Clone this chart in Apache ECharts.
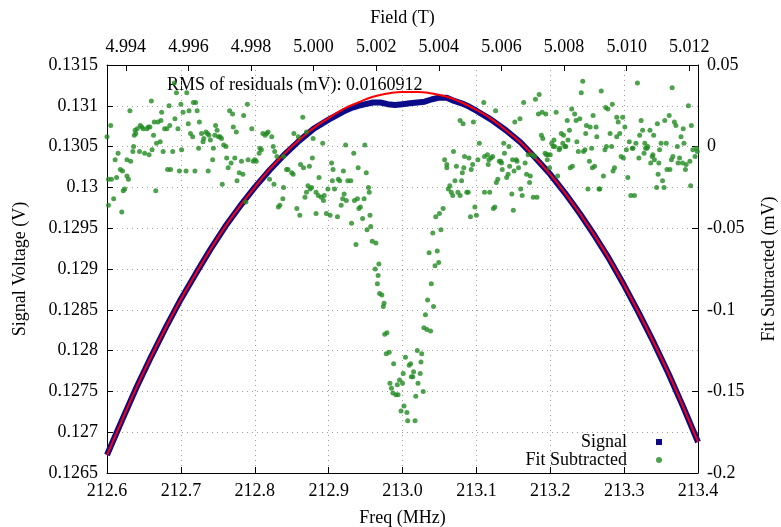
<!DOCTYPE html>
<html>
<head>
<meta charset="utf-8">
<script src="https://cdn.jsdelivr.net/npm/echarts@6/dist/echarts.min.js"></script>
<style>
  html, body { margin: 0; padding: 0; background: #fff; }
  #chart { width: 781px; height: 527px; }
</style>
</head>
<body>
<div id="chart"></div>
<script>
// measured signal (V) vs frequency (MHz)
const signalFreq = [212.60, 212.62, 212.64, 212.66, 212.68, 212.70, 212.72, 212.74, 212.76, 212.78,
  212.80, 212.82, 212.84, 212.86, 212.88, 212.90, 212.91, 212.92, 212.93, 212.94, 212.95, 212.96,
  212.97, 212.98, 212.99, 213.00, 213.01, 213.02, 213.03, 213.04, 213.05, 213.06, 213.07, 213.08,
  213.09, 213.10, 213.12, 213.14, 213.16, 213.18, 213.20, 213.22, 213.24, 213.26, 213.28, 213.30,
  213.32, 213.34, 213.36, 213.38, 213.40]
const signalVolt = [0.12672, 0.12714, 0.12755, 0.12793, 0.12829, 0.12863, 0.12894, 0.12924, 0.12952, 0.12977,
  0.13000, 0.13021, 0.13040, 0.13057, 0.13072, 0.13083, 0.13088, 0.13093, 0.13097, 0.13100, 0.13102, 0.13104,
  0.13104, 0.13102, 0.13101, 0.13102, 0.13103, 0.13104, 0.13105, 0.13108, 0.13110, 0.13110, 0.13106, 0.13103,
  0.13099, 0.13094, 0.13083, 0.13070, 0.13055, 0.13036, 0.13016, 0.12993, 0.12968, 0.12941, 0.12912, 0.12880,
  0.12846, 0.12810, 0.12772, 0.12731, 0.12688]

// fitted curve (V)
const fitFreq = [212.60, 212.62, 212.64, 212.66, 212.68, 212.70, 212.72, 212.74, 212.76, 212.78,
  212.80, 212.82, 212.84, 212.86, 212.88, 212.90, 212.92, 212.94, 212.96, 212.98, 213.00, 213.02,
  213.04, 213.06, 213.08, 213.10, 213.12, 213.14, 213.16, 213.18, 213.20, 213.22, 213.24, 213.26,
  213.28, 213.30, 213.32, 213.34, 213.36, 213.38, 213.40]
const fitVolt = [0.12672, 0.12714, 0.12755, 0.12793, 0.12829, 0.12863, 0.12894, 0.12924, 0.12952, 0.12977,
  0.13000, 0.13022, 0.13041, 0.13058, 0.13073, 0.13085, 0.13096, 0.13104, 0.13111, 0.13115, 0.13117, 0.13117,
  0.13115, 0.13111, 0.13104, 0.13095, 0.13084, 0.13070, 0.13055, 0.13036, 0.13016, 0.12993, 0.12968, 0.12941,
  0.12912, 0.12880, 0.12846, 0.12810, 0.12772, 0.12731, 0.12688]

// residuals, signal minus fit: [freq MHz, mV]
const fitSubtracted = [
  [212.600,0.006],[212.605,0.013],[212.602,-0.020],[212.606,-0.020],[212.613,-0.019],[212.602,-0.036],[212.609,-0.032],[212.611,-0.008],[212.615,-0.004],[212.618,-0.014],
  [212.621,-0.015],[212.620,-0.040],[212.622,-0.027],[212.624,-0.026],[212.627,-0.008],[212.629,-0.020],[212.627,-0.018],[212.631,0.022],[212.632,-0.009],[212.635,-0.003],
  [212.636,0.000],[212.638,0.010],[212.639,0.008],[212.637,0.007],[212.641,0.011],[212.644,-0.003],[212.645,0.013],[212.647,0.012],[212.649,0.011],[212.651,-0.004],
  [212.654,0.011],[212.656,0.012],[212.658,0.012],[212.657,-0.005],[212.660,0.028],[212.661,-0.002],[212.663,0.007],[212.664,0.015],[212.666,-0.027],[212.667,0.002],
  [212.669,0.015],[212.672,0.003],[212.673,0.016],[212.674,0.021],[212.676,-0.003],[212.678,0.011],[212.681,0.011],[212.682,-0.014],[212.684,0.025],[212.685,0.013],
  [212.686,-0.014],[212.689,-0.003],[212.691,0.039],[212.692,0.017],[212.694,0.033],[212.696,0.011],[212.698,-0.015],[212.700,0.026],[212.701,-0.002],[212.703,0.021],
  [212.707,-0.015],[212.708,0.033],[212.710,0.014],[212.711,0.022],[212.713,0.008],[212.716,0.006],[212.717,0.027],[212.719,-0.015],[212.720,0.027],[212.722,0.022],
  [212.724,-0.001],[212.725,0.015],[212.728,0.008],[212.730,0.003],[212.731,0.005],[212.734,0.009],[212.736,0.008],[212.737,-0.015],[212.738,0.007],[212.740,0.004],
  [212.743,-0.008],[212.744,-0.001],[212.746,0.007],[212.747,0.013],[212.749,0.010],[212.751,0.006],[212.753,0.006],[212.755,0.005],[212.756,-0.023],[212.758,0.001],
  [212.761,0.000],[212.762,-0.007],[212.764,-0.013],[212.766,0.022],[212.768,-0.010],[212.770,0.020],[212.771,0.012],[212.773,-0.007],[212.775,0.009],[212.776,-0.021],
  [212.779,-0.016],[212.782,-0.009],[212.784,-0.017],[212.785,0.019],[212.788,-0.034],[212.790,0.026],[212.791,-0.008],[212.796,0.011],[212.798,-0.009],[212.800,-0.008],
  [212.802,-0.009],[212.806,-0.004],[212.807,-0.001],[212.809,-0.002],[212.811,0.008],[212.814,0.007],[212.816,0.008],[212.818,0.009],[212.820,-0.020],[212.823,0.006],
  [212.825,0.000],[212.826,-0.023],[212.827,-0.003],[212.830,-0.006],[212.832,-0.037],[212.834,-0.036],[212.838,-0.032],[212.839,-0.025],[212.843,-0.014],[212.845,-0.014],
  [212.850,-0.016],[212.852,-0.017],[212.853,0.008],[212.857,-0.038],[212.859,0.006],[212.861,-0.042],[212.839,-0.006],
  [212.865,0.018],[212.870,0.009],[212.879,0.005],[212.862,-0.011],[212.866,-0.013],[212.874,-0.012],[212.878,-0.007],[212.872,-0.024],[212.875,-0.026],[212.877,-0.025],
  [212.870,-0.028],[212.868,-0.031],[212.883,-0.028],[212.886,-0.030],[212.887,-0.019],[212.892,0.002],[212.890,-0.031],[212.894,-0.030],[212.893,-0.033],[212.883,-0.041],
  [212.897,-0.041],[212.899,-0.026],[212.902,-0.042],[212.904,-0.010],[212.906,-0.014],[212.905,-0.021],[212.908,-0.026],[212.912,-0.043],[212.913,-0.020],[212.915,-0.021],
  [212.917,-0.036],[212.920,-0.015],[212.919,-0.032],[212.921,-0.029],[212.923,0.001],[212.924,-0.033],[212.926,-0.021],[212.930,-0.021],[212.931,-0.047],[212.934,-0.004],
  [212.935,-0.033],[212.939,-0.032],[212.940,-0.013],[212.941,-0.038],[212.943,-0.037],[212.946,-0.044],[212.948,-0.032],[212.949,0.001],[212.951,-0.016],[212.954,-0.025],
  [212.955,-0.028],[212.956,-0.042],
  [212.937,-0.060],[212.952,-0.051],[212.957,-0.049],[212.959,-0.058],[212.964,-0.059],[212.968,-0.072],[212.963,-0.075],[212.967,-0.079],[212.966,-0.084],[212.969,-0.090],
  [212.972,-0.091],[212.974,-0.098],[212.975,-0.096],[212.976,-0.115],[212.979,-0.114],[212.978,-0.127],[212.982,-0.126],[212.988,-0.133],[212.983,-0.145],[212.985,-0.148],
  [212.987,-0.151],[212.991,-0.152],[212.994,-0.152],[212.993,-0.146],[212.996,-0.143],[213.000,-0.145],[213.001,-0.139],[213.004,-0.129],[213.009,-0.134],[213.011,-0.133],
  [213.012,-0.141],[213.014,-0.141],[213.015,-0.138],[213.020,-0.125],[213.026,-0.127],[213.025,-0.132],[213.024,-0.139],[213.021,-0.145],[213.028,-0.150],[213.018,-0.153],
  [213.002,-0.159],[212.998,-0.162],[213.006,-0.163],[213.007,-0.168],[213.017,-0.168],
  [213.029,-0.111],[213.033,-0.112],[213.038,-0.113],[213.031,-0.103],[213.042,-0.098],[213.034,-0.094],[213.039,-0.084],[213.044,-0.073],[213.049,-0.071],[213.036,-0.065],
  [213.047,-0.064],[213.041,-0.053],[213.052,-0.051],[213.045,-0.043],[213.050,-0.041],[213.055,-0.038],
  [213.057,-0.008],[213.060,-0.011],[213.060,-0.013],[213.062,-0.026],[213.064,-0.024],[213.066,-0.028],[213.068,-0.030],[213.069,-0.003],[213.071,-0.021],[213.073,-0.012],
  [213.075,-0.028],[213.078,-0.030],[213.080,-0.021],[213.081,-0.016],[213.083,-0.013],[213.084,-0.006],[213.087,-0.028],[213.089,-0.028],[213.090,-0.007],[213.092,-0.043],
  [213.093,-0.014],[213.095,-0.011],[213.096,0.015],[213.098,-0.037],[213.100,-0.042],[213.102,-0.008],[213.104,0.002],[213.078,0.016],[213.082,0.014],
  [213.110,0.027],[213.111,-0.006],[213.111,-0.028],[213.118,-0.028],[213.115,-0.005],[213.116,-0.011],[213.117,-0.008],[213.120,-0.007],[213.122,-0.006],[213.123,-0.038],
  [213.125,-0.037],[213.126,0.022],[213.127,-0.022],[213.129,-0.020],[213.131,-0.009],[213.133,-0.009],[213.134,-0.010],[213.135,-0.014],[213.137,0.002],[213.138,-0.004],
  [213.141,-0.019],[213.143,-0.017],[213.144,0.000],[213.145,-0.012],[213.148,-0.029],[213.149,-0.008],[213.150,-0.039],[213.151,-0.015],[213.152,0.015],[213.154,-0.008],
  [213.155,-0.009],[213.157,-0.013],[213.159,0.017],[213.160,-0.026],[213.162,-0.030],[213.164,0.027],[213.166,-0.010],[213.168,-0.017],[213.170,-0.005],[213.172,-0.022],
  [213.173,-0.018],[213.176,-0.005],[213.177,-0.031],[213.179,-0.006],[213.180,0.029],[213.182,-0.031],[213.184,0.020],[213.185,0.032],[213.188,0.007],[213.189,0.021],
  [213.190,0.005],[213.193,-0.004],[213.194,0.020],[213.195,-0.005],[213.196,-0.008],[213.197,-0.005],[213.199,-0.013],[213.200,-0.005],[213.202,0.002],[213.204,0.000],
  [213.205,0.004],[213.206,0.000],[213.208,0.021],[213.210,-0.018],[213.212,-0.002],[213.213,-0.001],[213.215,0.008],[213.217,0.002],[213.218,0.007],[213.220,0.000],
  [213.221,0.000],[213.223,0.016],[213.224,0.004],[213.226,0.010],[213.227,-0.013],[213.229,0.023],[213.230,-0.012],[213.233,0.020],[213.235,0.016],[213.236,0.003],
  [213.238,-0.003],[213.240,0.017],[213.242,0.033],[213.244,0.040],[213.245,-0.003],[213.247,-0.002],[213.248,0.008],[213.249,0.013],[213.251,-0.026],[213.253,-0.009],
  [213.254,0.012],[213.256,-0.001],[213.257,-0.013],[213.258,0.019],[213.260,-0.012],[213.262,0.012],[213.263,0.006],[213.266,-0.026],[213.267,-0.026],[213.269,0.034],
  [213.272,-0.018],[213.274,-0.002],[213.275,0.024],[213.276,0.000],[213.278,0.023],[213.281,0.008],[213.283,0.000],[213.284,0.026],[213.285,-0.015],[213.287,-0.013],
  [213.290,0.018],[213.290,0.006],[213.292,0.015],[213.294,0.008],[213.296,-0.006],[213.298,0.018],[213.299,-0.007],[213.301,0.012],[213.303,-0.002],[213.305,-0.019],
  [213.307,0.003],[213.309,-0.030],[213.311,-0.001],[213.312,-0.001],[213.314,-0.030],[213.316,0.002],[213.318,0.039],[213.320,-0.007],[213.321,0.007],[213.323,0.016],
  [213.325,0.010],[213.327,-0.004],[213.328,0.002],[213.329,-0.001],[213.331,-0.001],[213.332,0.000],[213.335,0.010],[213.336,-0.010],[213.338,-0.006],[213.339,-0.005],
  [213.340,0.007],[213.341,-0.008],[213.344,-0.025],[213.345,0.014],[213.346,-0.017],[213.347,-0.010],[213.348,-0.002],[213.350,0.002],[213.352,-0.021],[213.354,-0.025],
  [213.355,0.016],[213.357,0.002],[213.358,-0.014],[213.361,0.019],[213.362,-0.014],[213.364,-0.008],[213.365,0.036],[213.366,-0.006],[213.368,0.015],[213.370,0.013],
  [213.372,0.000],[213.373,-0.010],[213.375,-0.007],[213.377,0.006],[213.379,-0.010],[213.380,0.011],[213.381,0.002],[213.383,-0.014],[213.384,-0.011],[213.387,0.025],
  [213.389,-0.009],[213.390,-0.024],[213.391,0.013],[213.393,-0.002],[213.396,-0.006],[213.398,-0.001],[213.399,-0.003]
]

// top axis: magnetic field (T) matching the frequency range
const fieldMin = 4.9934
const fieldMax = 5.01228
const fieldTicks = [4.994, 4.996, 4.998, 5.000, 5.002, 5.004, 5.006, 5.008, 5.010, 5.012]
const rmsText = 'RMS of residuals (mV): 0.0160912'

const font = 'Liberation Serif'
const axisText = { fontFamily: font, fontSize: 18, color: '#000' }
const black = { onZero: false, lineStyle: { color: '#000', width: 1 } }
const ticks = { inside: true, length: 6, lineStyle: { color: '#000' } }
const dotted = { show: true, lineStyle: { color: '#a0a0a0', width: 1, type: [1, 4] } }

const chart = echarts.init(document.getElementById('chart'), null, { renderer: 'canvas' })

chart.setOption({
  animation: false,
  backgroundColor: '#fff',
  grid: { left: 107, right: 83, top: 65, bottom: 54, containLabel: false, outerBoundsMode: 'none' },
  legend: {
    orient: 'vertical',
    right: 114,
    top: 428,
    align: 'right',
    itemWidth: 6,
    itemHeight: 6,
    itemGap: 0,
    selectedMode: false,
    textStyle: { fontFamily: font, fontSize: 18, color: '#000', padding: [0, 24, 0, 0] },
    data: [{ name: 'Signal', icon: 'rect' }, { name: 'Fit Subtracted', icon: 'circle' }]
  },
  graphic: [{
    type: 'text',
    left: 167,
    top: 76,
    style: { text: rmsText, font: '18px "Liberation Serif"', fill: '#000' }
  }],
  xAxis: [
    {
      type: 'value',
      min: 212.6,
      max: 213.4,
      interval: 0.1,
      name: 'Freq (MHz)',
      nameLocation: 'middle',
      nameGap: 36,
      nameTextStyle: axisText,
      axisLine: black,
      axisTick: ticks,
      axisLabel: Object.assign({ margin: 9, formatter: v => v.toFixed(1) }, axisText),
      splitLine: dotted
    },
    {
      type: 'value',
      position: 'top',
      min: fieldMin,
      max: fieldMax,
      name: 'Field (T)',
      nameLocation: 'middle',
      nameGap: 38,
      nameTextStyle: axisText,
      axisLine: black,
      axisTick: Object.assign({ customValues: fieldTicks }, ticks),
      axisLabel: Object.assign({ margin: 9, customValues: fieldTicks, formatter: v => v.toFixed(3) }, axisText),
      splitLine: { show: false }
    }
  ],
  yAxis: [
    {
      type: 'value',
      min: 0.1265,
      max: 0.1315,
      interval: 0.0005,
      name: 'Signal Voltage (V)',
      nameLocation: 'middle',
      nameGap: 78,
      nameTextStyle: axisText,
      axisLine: black,
      axisTick: ticks,
      axisLabel: Object.assign({ margin: 9, formatter: v => String(+v.toFixed(4)) }, axisText),
      splitLine: dotted
    },
    {
      type: 'value',
      min: -0.2,
      max: 0.05,
      interval: 0.05,
      name: 'Fit Subtracted (mV)',
      nameLocation: 'middle',
      nameGap: 62,
      nameTextStyle: axisText,
      axisLine: black,
      axisTick: ticks,
      axisLabel: Object.assign({ margin: 9, formatter: v => String(+v.toFixed(2)) }, axisText),
      splitLine: { show: false }
    }
  ],
  series: [
    {
      name: 'Signal',
      type: 'line',
      xAxisIndex: 0,
      yAxisIndex: 0,
      showSymbol: false,
      itemStyle: { color: '#0b0b8a' },
      lineStyle: { color: '#0b0b8a', width: 6 },
      data: signalFreq.map((f, i) => [f, signalVolt[i]]),
      z: 2
    },
    {
      name: 'Fit',
      type: 'line',
      xAxisIndex: 0,
      yAxisIndex: 0,
      showSymbol: false,
      smooth: true,
      lineStyle: { color: '#ff0000', width: 2 },
      data: fitFreq.map((f, i) => [f, fitVolt[i]]),
      z: 3
    },
    {
      name: 'Fit Subtracted',
      type: 'scatter',
      xAxisIndex: 0,
      yAxisIndex: 1,
      symbol: 'circle',
      symbolSize: 5,
      itemStyle: { color: '#228b22' },
      data: fitSubtracted,
      z: 4
    }
  ]
})
</script>
</body>
</html>
